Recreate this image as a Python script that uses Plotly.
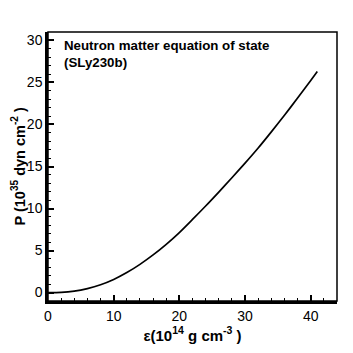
import plotly.graph_objects as go

# energy density (10^14 g cm^-3) and pressure (10^35 dyn cm^-2)
energy_density = [0, 2, 4, 6, 8, 10, 12, 14, 16, 18, 20, 22, 24, 26, 28, 30,
                  32, 34, 36, 38, 40, 41]
pressure = [0, 0.03, 0.18, 0.48, 0.93, 1.56, 2.38, 3.36, 4.48, 5.74, 7.14,
            8.70, 10.30, 11.96, 13.66, 15.40, 17.20, 19.12, 21.10, 23.14,
            25.24, 26.30]

x_ticks = [0, 10, 20, 30, 40]
y_ticks = [0, 5, 10, 15, 20, 25, 30]

font_family = "Liberation Sans, Arial, sans-serif"

fig = go.Figure()
fig.add_trace(go.Scatter(
    x=energy_density,
    y=pressure,
    mode='lines',
    line=dict(color='black', width=1.7, shape='spline', smoothing=0.8),
    showlegend=False
))

axis_common = dict(
    showline=True, linecolor='black', linewidth=2.5,
    ticks='inside', ticklen=6, tickwidth=2, tickcolor='black',
    showgrid=False, zeroline=False, automargin=False,
    tickfont=dict(size=14, color='black', family=font_family),
)

fig.update_xaxes(
    range=[0, 44], tickvals=x_ticks,
    minor=dict(ticks='inside', ticklen=3, tickwidth=1, tickcolor='black', dtick=2),
    title=dict(text='<b>ε(10<sup>14</sup> g cm<sup>-3</sup> )</b>',
               font=dict(size=15, color='black', family=font_family), standoff=8),
    **axis_common
)
fig.update_yaxes(
    range=[-1, 31], tickvals=y_ticks,
    minor=dict(ticks='inside', ticklen=3, tickwidth=1, tickcolor='black', dtick=1),
    **axis_common
)

# y title as an annotation so it can sit right against the tick labels
fig.add_annotation(
    xref='paper', yref='paper', x=0, y=0.5, xanchor='center', yanchor='middle',
    xshift=-30, textangle=-90, showarrow=False,
    text='<b>P (10<sup>35</sup> dyn cm<sup>-2</sup> )</b>',
    font=dict(size=14.5, color='black', family=font_family)
)

# thin frame on top and right
fig.add_shape(type='rect', xref='paper', yref='paper', x0=0, y0=0, x1=1, y1=1,
              line=dict(color='black', width=1.5))

fig.add_annotation(
    xref='paper', yref='paper', x=0.05, y=0.985, xanchor='left', yanchor='top',
    text='<b>Neutron matter equation of state<br>(SLy230b)</b>', align='left',
    showarrow=False, font=dict(size=13.3, color='black', family=font_family)
)

# page body adds an 8px offset, so margins are shifted to compensate
fig.update_layout(
    width=353, height=353,
    margin=dict(l=40, r=24, t=24, b=60),
    plot_bgcolor='white', paper_bgcolor='white',
)

fig.write_html("out.html")
